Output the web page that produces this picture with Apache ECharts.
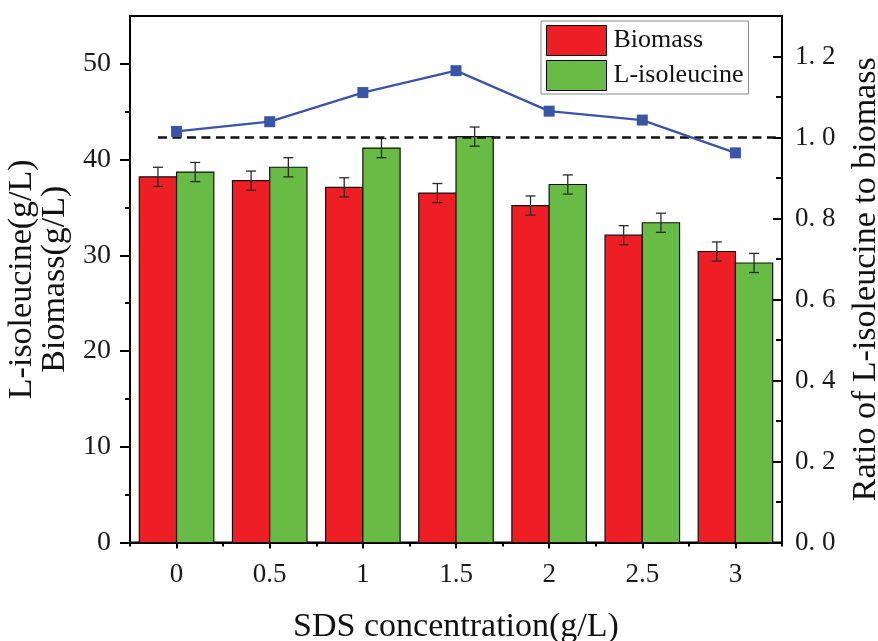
<!DOCTYPE html>
<html>
<head>
<meta charset="utf-8">
<script src="https://cdn.jsdelivr.net/npm/echarts@6/dist/echarts.min.js"></script>
<style>html,body{margin:0;padding:0;background:#fff;}#c{width:878px;height:641px;}</style>
</head>
<body>
<div id="c"></div>
<script>
// ---- data ----
const concentrations = [0, 0.5, 1, 1.5, 2, 2.5, 3];
const biomass = [38.2, 37.8, 37.1, 36.5, 35.2, 32.1, 30.4];
const biomassErr = [1.0, 1.0, 1.0, 1.0, 1.0, 1.0, 1.0];
const isoleucine = [38.7, 39.2, 41.2, 42.4, 37.4, 33.4, 29.2];
const isoleucineErr = [1.0, 1.0, 1.0, 1.0, 1.0, 1.0, 1.0];
const ratio = [1.015, 1.039, 1.111, 1.165, 1.065, 1.043, 0.962];
const referenceRatio = 1.0;
const xMajorTicks = [0, 0.5, 1, 1.5, 2, 2.5, 3];
const xMinorTicks = [-0.25, 0.25, 0.75, 1.25, 1.75, 2.25, 2.75, 3.25];
const yLeftTicks = [0, 10, 20, 30, 40, 50];
const yLeftMinor = [5, 15, 25, 35, 45];
const yRightTicks = [0, 0.2, 0.4, 0.6, 0.8, 1.0, 1.2];
const yRightMinor = [0.1, 0.3, 0.5, 0.7, 0.9, 1.1];

const FONT = '"Liberation Serif", "Times New Roman", serif';
const RED = '#ED1F24', GREEN = '#68BB45', BLUE = '#3A55A8';
const BW = 0.2;

function barItem(offset) {
  return function (params, api) {
    const x = api.value(0), v = api.value(1);
    const a = api.coord([x + offset, v]);
    const b = api.coord([x + offset + BW, 0]);
    return {
      type: 'rect',
      shape: { x: a[0], y: a[1], width: b[0] - a[0], height: b[1] - a[1] },
      style: { fill: api.visual('color'), stroke: '#111', lineWidth: 1.2 }
    };
  };
}
function errItem(offset) {
  return function (params, api) {
    const x = api.value(0) + offset, v = api.value(1), e = api.value(2);
    const t = api.coord([x, v + e]);
    const b = api.coord([x, v - e]);
    const w = 5;
    const st = { stroke: '#2a2a2a', lineWidth: 1.3 };
    return {
      type: 'group',
      children: [
        { type: 'line', shape: { x1: t[0], y1: t[1], x2: b[0], y2: b[1] }, style: st },
        { type: 'line', shape: { x1: t[0] - w, y1: t[1], x2: t[0] + w, y2: t[1] }, style: st },
        { type: 'line', shape: { x1: b[0] - w, y1: b[1], x2: b[0] + w, y2: b[1] }, style: st }
      ]
    };
  };
}

const axLine = { show: true, onZero: false, lineStyle: { color: '#000', width: 2 } };
const noLine = { show: false, onZero: false };
const tickStyle = { color: '#000', width: 2 };
const labelStyle = { fontFamily: FONT, fontSize: 27, color: '#1a1a1a' };

const chart = echarts.init(document.getElementById('c'), null, { renderer: 'canvas' });
chart.setOption({
  animation: false,
  backgroundColor: '#fff',
  grid: { left: 130, right: 96, top: 16, bottom: 98.5, show: true, borderColor: '#000', borderWidth: 2,
          backgroundColor: 'transparent', containLabel: false, outerBoundsMode: 'none' },
  legend: {
    data: ['Biomass', 'L-isoleucine'],
    left: 541, top: 21, orient: 'vertical',
    icon: 'rect', itemWidth: 60, itemHeight: 30, itemGap: 4,
    padding: [4, 5, 3, 5],
    borderColor: '#888', borderWidth: 1,
    itemStyle: { borderColor: '#000', borderWidth: 1 },
    textStyle: { fontFamily: FONT, fontSize: 26, color: '#111', padding: [0, 0, 0, 2] }
  },
  xAxis: [
    {
      type: 'value', min: -0.25, max: 3.25, position: 'bottom',
      axisLine: axLine,
      axisTick: { show: true, customValues: xMajorTicks, length: 6, lineStyle: tickStyle },
      axisLabel: Object.assign({ customValues: xMajorTicks, margin: 19 }, labelStyle),
      splitLine: { show: false },
      name: 'SDS concentration(g/L)', nameLocation: 'middle', nameGap: 68,
      nameTextStyle: { fontFamily: FONT, fontSize: 34, color: '#111' }
    },
    {
      type: 'value', min: -0.25, max: 3.25, position: 'bottom',
      axisLine: noLine,
      axisTick: { show: true, customValues: xMinorTicks, length: 4, lineStyle: tickStyle },
      axisLabel: { show: false }, splitLine: { show: false }
    }
  ],
  yAxis: [
    {
      type: 'value', min: 0, max: 55, position: 'left',
      axisLine: axLine,
      axisTick: { show: true, customValues: yLeftTicks, length: 10, lineStyle: tickStyle },
      axisLabel: Object.assign({ customValues: yLeftTicks, margin: 19 }, labelStyle, { fontSize: 28 }),
      splitLine: { show: false },
      name: 'L-isoleucine(g/L)\nBiomass(g/L)', nameLocation: 'middle', nameGap: 46, nameRotate: 90,
      nameTextStyle: { fontFamily: FONT, fontSize: 34, lineHeight: 33, color: '#111' }
    },
    {
      type: 'value', min: 0, max: 1.3, position: 'right',
      axisLine: axLine,
      axisTick: { show: true, inside: true, customValues: yRightTicks, length: 9, lineStyle: tickStyle },
      axisLabel: Object.assign({ customValues: yRightTicks, margin: 13, formatter: v => v.toFixed(1).replace('.', '. ') }, labelStyle),
      splitLine: { show: false },
      name: 'Ratio of L-isoleucine to biomass', nameLocation: 'middle', nameGap: 67, nameRotate: 90,
      nameTextStyle: { fontFamily: FONT, fontSize: 34, color: '#111' }
    },
    {
      type: 'value', min: 0, max: 55, position: 'left',
      axisLine: noLine,
      axisTick: { show: true, customValues: yLeftMinor, length: 5, lineStyle: tickStyle },
      axisLabel: { show: false }, splitLine: { show: false }
    },
    {
      type: 'value', min: 0, max: 1.3, position: 'right',
      axisLine: noLine,
      axisTick: { show: true, inside: true, customValues: yRightMinor, length: 6, lineStyle: tickStyle },
      axisLabel: { show: false }, splitLine: { show: false }
    }
  ],
  series: [
    {
      name: 'Biomass', type: 'custom', xAxisIndex: 0, yAxisIndex: 0, z: 2,
      itemStyle: { color: RED, borderColor: '#000', borderWidth: 1 },
      renderItem: barItem(-BW), encode: { x: 0, y: 1 },
      data: concentrations.map((c, i) => [c, biomass[i]])
    },
    {
      name: 'L-isoleucine', type: 'custom', xAxisIndex: 0, yAxisIndex: 0, z: 2,
      itemStyle: { color: GREEN, borderColor: '#000', borderWidth: 1 },
      renderItem: barItem(0), encode: { x: 0, y: 1 },
      data: concentrations.map((c, i) => [c, isoleucine[i]])
    },
    {
      name: 'biomassErr', type: 'custom', xAxisIndex: 0, yAxisIndex: 0, z: 3,
      renderItem: errItem(-BW / 2), encode: { x: 0, y: 1 },
      data: concentrations.map((c, i) => [c, biomass[i], biomassErr[i]])
    },
    {
      name: 'isoleucineErr', type: 'custom', xAxisIndex: 0, yAxisIndex: 0, z: 3,
      renderItem: errItem(BW / 2), encode: { x: 0, y: 1 },
      data: concentrations.map((c, i) => [c, isoleucine[i], isoleucineErr[i]])
    },
    {
      name: 'reference', type: 'line', xAxisIndex: 0, yAxisIndex: 1, z: 4,
      symbol: 'none', silent: true,
      lineStyle: { color: '#111', width: 2.3, type: [9, 5.5] },
      data: [[-0.1, referenceRatio], [3.25, referenceRatio]]
    },
    {
      name: 'Ratio', type: 'line', xAxisIndex: 0, yAxisIndex: 1, z: 5,
      symbol: 'rect', symbolSize: 11,
      itemStyle: { color: BLUE },
      lineStyle: { color: BLUE, width: 2.3 },
      data: concentrations.map((c, i) => [c, ratio[i]])
    }
  ]
});
</script>
</body>
</html>
